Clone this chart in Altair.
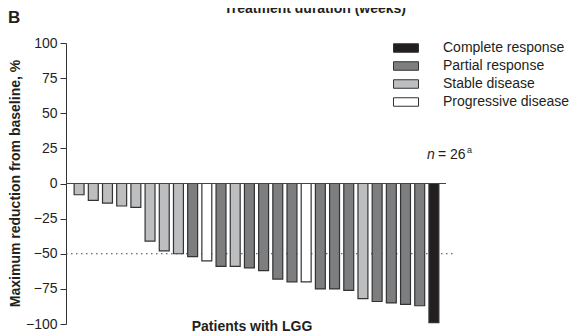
import altair as alt
import pandas as pd

# ---- data ----
values = [-8, -12, -14, -16, -17, -41, -48, -50, -52, -55, -59, -59, -60,
          -62, -68, -70, -70, -75, -75, -76, -82, -84, -85, -86, -87, -99]
responses = ["SD", "SD", "SD", "SD", "SD", "SD", "SD", "SD", "PR", "PD",
             "PR", "SD", "PR", "PR", "PR", "PR", "PD", "PR", "PR", "PR",
             "SD", "PR", "PR", "PR", "PR", "CR"]
resp_names = {"CR": "Complete response", "PR": "Partial response",
              "SD": "Stable disease", "PD": "Progressive disease"}
legend_order = ["Complete response", "Partial response", "Stable disease",
                "Progressive disease"]
legend_colors = ["#231f20", "#7d7e80", "#bdbec0", "#ffffff"]
y_ticks = [-100, -75, -50, -25, 0, 25, 50, 75, 100]
zero_line = [0]
threshold_line = [-50]

df = pd.DataFrame({
    "patient": list(range(1, len(values) + 1)),
    "value": values,
    "response": [resp_names[r] for r in responses],
})

FONT = "Liberation Sans"
INK = "#231f20"

y_scale = alt.Scale(domain=[-100, 100], nice=False, zero=False)
y_axis = alt.Axis(values=y_ticks, offset=6, grid=False, labelOverlap=False,
                  title="Maximum reduction from baseline, %",
                  titleFontSize=14, titleFontWeight="bold",
                  titleFont=FONT, titleColor=INK,
                  titleAngle=270, titleBaseline="bottom",
                  titleX=-44, titleY=140,
                  labelFontSize=14, labelFont=FONT, labelColor=INK,
                  labelPadding=3, tickSize=6, tickColor="#333333",
                  domainColor="#333333", tickWidth=1, domainWidth=1)


def Y():
    return alt.Y("value:Q", scale=y_scale, axis=y_axis)


bars = alt.Chart(df).mark_bar(stroke="#333333", strokeWidth=1.2).encode(
    x=alt.X("patient:O", axis=None,
            scale=alt.Scale(paddingInner=0.3, paddingOuter=0.15)),
    y=Y(),
    fill=alt.Fill("response:N",
                  scale=alt.Scale(domain=legend_order, range=legend_colors),
                  legend=alt.Legend(orient="none", legendX=327, legendY=-2,
                                    title=None, padding=0,
                                    symbolType="M-2.5,-0.85H2.5V0.85H-2.5Z",
                                    symbolSize=100, symbolStrokeColor="#333333",
                                    symbolStrokeWidth=1, symbolOpacity=1,
                                    labelFontSize=14, labelFont=FONT,
                                    labelColor=INK, labelOffset=30,
                                    rowPadding=4)),
)

dotted = alt.Chart(pd.DataFrame({"value": threshold_line})).mark_rule(
    color="#444444", strokeDash=[1.5, 3.5], strokeWidth=1.2
).encode(y=Y(), x=alt.value(-6), x2=alt.value(383))

zero = alt.Chart(pd.DataFrame({"value": zero_line})).mark_rule(
    color="#444444", strokeWidth=1.2
).encode(y=Y(), x=alt.value(-6), x2=alt.value(374))


def label(text, x, y, size=14, weight="normal", style="normal", align="left"):
    return alt.Chart(pd.DataFrame({"t": [text]})).mark_text(
        font=FONT, fontSize=size, fontWeight=weight, fontStyle=style,
        align=align, baseline="alphabetic", color=INK
    ).encode(text="t:N", x=alt.value(x), y=alt.value(y))


texts = [
    label("Treatment duration (weeks)", 243, -30.5, 14, "bold", align="center"),
    label("B", -64, -20, 17, "bold"),
    label("n", 355, 116, 14, style="italic"),
    label("= 26", 366, 116, 14),
    label("a", 395, 110, 9),
    label("Patients with LGG", 180, 288, 14, "bold", align="center"),
]

chart = alt.layer(dotted, bars, zero, *texts).properties(
    width=369, height=281,
    autosize=alt.AutoSizeParams(type="none"),
    padding={"left": 64, "top": 35, "right": 139, "bottom": 10},
).configure_view(stroke=None)

chart.save("out.html", embed_options={"renderer": "svg", "actions": False})
